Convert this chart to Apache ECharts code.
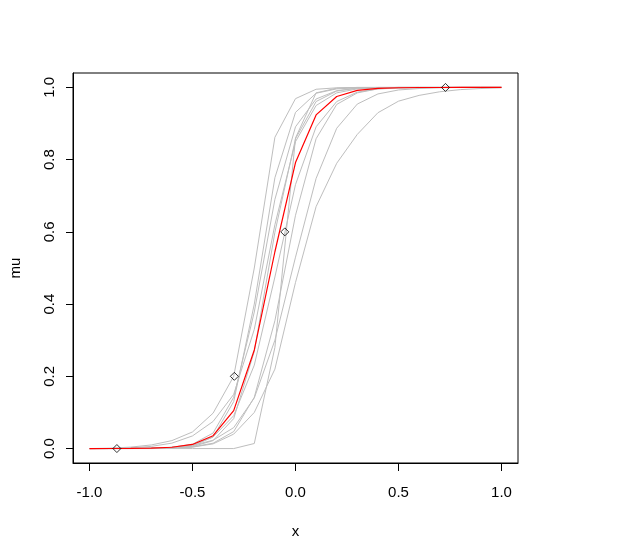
<!DOCTYPE html>
<html><head><meta charset="utf-8">
<script src="https://cdn.jsdelivr.net/npm/echarts@6/dist/echarts.min.js"></script>
<style>html,body{margin:0;padding:0;background:#fff}#c{width:617px;height:554px}</style>
</head><body><div id="c"></div>
<script>
const xs = [-1,-0.9,-0.8,-0.7,-0.6,-0.5,-0.4,-0.3,-0.2,-0.1,0,0.1,0.2,0.3,0.4,0.5,0.6,0.7,0.8,0.9,1];
const fitMean = [0.00004,0.0001,0.0004,0.0011,0.0036,0.0114,0.0356,0.105,0.273,0.545,0.792,0.924,0.975,0.992,0.9975,0.9992,0.9998,0.9999,1,1,1];
const draw1 = [0,0.001,0.004,0.01,0.022,0.046,0.098,0.2,0.5,0.862,0.969,0.995,0.999,1,1,1,1,1,1,1,1];
const draw2 = [0,0,0.002,0.006,0.015,0.035,0.075,0.15,0.33,0.62,0.85,0.95,0.985,0.996,0.999,1,1,1,1,1,1];
const draw3 = [0,0,0.0001,0.0004,0.0017,0.0074,0.032,0.13,0.40,0.75,0.931,0.984,0.996,0.999,1,1,1,1,1,1,1];
const draw4 = [0,0,0.0002,0.0009,0.0033,0.012,0.043,0.142,0.378,0.69,0.891,0.968,0.991,0.998,0.999,1,1,1,1,1,1];
const draw5 = [0,0,0.0001,0.0004,0.0014,0.0055,0.022,0.083,0.269,0.599,0.858,0.961,0.990,0.998,0.999,1,1,1,1,1,1];
const draw6 = [0,0.0001,0.0004,0.0012,0.0037,0.011,0.032,0.091,0.231,0.475,0.731,0.891,0.961,0.987,0.996,0.998,0.999,1,1,1,1];
const draw7 = [0,0,0.0001,0.0004,0.0014,0.0045,0.0148,0.047,0.142,0.354,0.646,0.858,0.953,0.985,0.996,0.999,1,1,1,1,1];
const draw8 = [0,0,0,0,0,0,0,0,0.014,0.28,0.86,0.985,0.998,1,1,1,1,1,1,1,1];
const draw9 = [0,0.0002,0.0005,0.0013,0.0033,0.0088,0.023,0.058,0.14,0.30,0.53,0.748,0.887,0.954,0.982,0.993,0.997,0.999,1,1,1];
const draw10 = [0,0,0,0,0.001,0.004,0.013,0.04,0.1,0.22,0.46,0.67,0.79,0.87,0.93,0.962,0.978,0.988,0.994,0.997,0.999];
const draws = [draw1,draw2,draw3,draw4,draw5,draw6,draw7,draw8,draw9,draw10];
const obsX = [-0.867,-0.297,-0.052,0.728];
const obsY = [0,0.2,0.6,1.0];
const xTicks = [-1,-0.5,0,0.5,1];
const yTicks = [0,0.2,0.4,0.6,0.8,1];

const pair = (ys) => xs.map((x,i)=>[x,ys[i]]);
const series = [];
draws.forEach(d => series.push({type:'line', data:pair(d), symbol:'none', silent:true,
  lineStyle:{color:'#bebebe', width:1}, z:2}));
series.push({type:'line', data:pair(fitMean), symbol:'none', silent:true,
  lineStyle:{color:'#ff0000', width:1.2}, z:3});
series.push({type:'scatter', data:obsX.map((x,i)=>[x,obsY[i]]), symbol:'diamond', symbolSize:8,
  itemStyle:{color:'rgba(0,0,0,0)', borderColor:'#000', borderWidth:1}, z:4});

const font = {fontFamily:'Liberation Sans, Arial, sans-serif', fontSize:15, color:'#000'};
const chart = echarts.init(document.getElementById('c'), null, {renderer:'canvas'});
chart.setOption({
  animation:false,
  backgroundColor:'#fff',
  grid:{left:73, right:99, top:73, bottom:91, show:true, borderColor:'#000', borderWidth:1, backgroundColor:'transparent'},
  xAxis:{type:'value', min:-1.08, max:1.08,
    name:'x', nameLocation:'middle', nameGap:61, nameTextStyle:font,
    axisLine:{show:true, onZero:false, lineStyle:{color:'#000'}},
    axisTick:{show:true, inside:false, length:8, customValues:xTicks, lineStyle:{color:'#000'}},
    axisLabel:{show:true, customValues:xTicks, margin:22, formatter:v=>v.toFixed(1), ...font},
    splitLine:{show:false}},
  yAxis:{type:'value', min:-0.04, max:1.04,
    name:'mu', nameLocation:'middle', nameGap:50, nameRotate:90, nameTextStyle:font,
    axisLine:{show:true, onZero:false, lineStyle:{color:'#000'}},
    axisTick:{show:true, inside:false, length:7, customValues:yTicks, lineStyle:{color:'#000'}},
    axisLabel:{show:true, customValues:yTicks, margin:16, rotate:90, formatter:v=>v.toFixed(1), ...font},
    splitLine:{show:false}},
  series:series
});
</script></body></html>
